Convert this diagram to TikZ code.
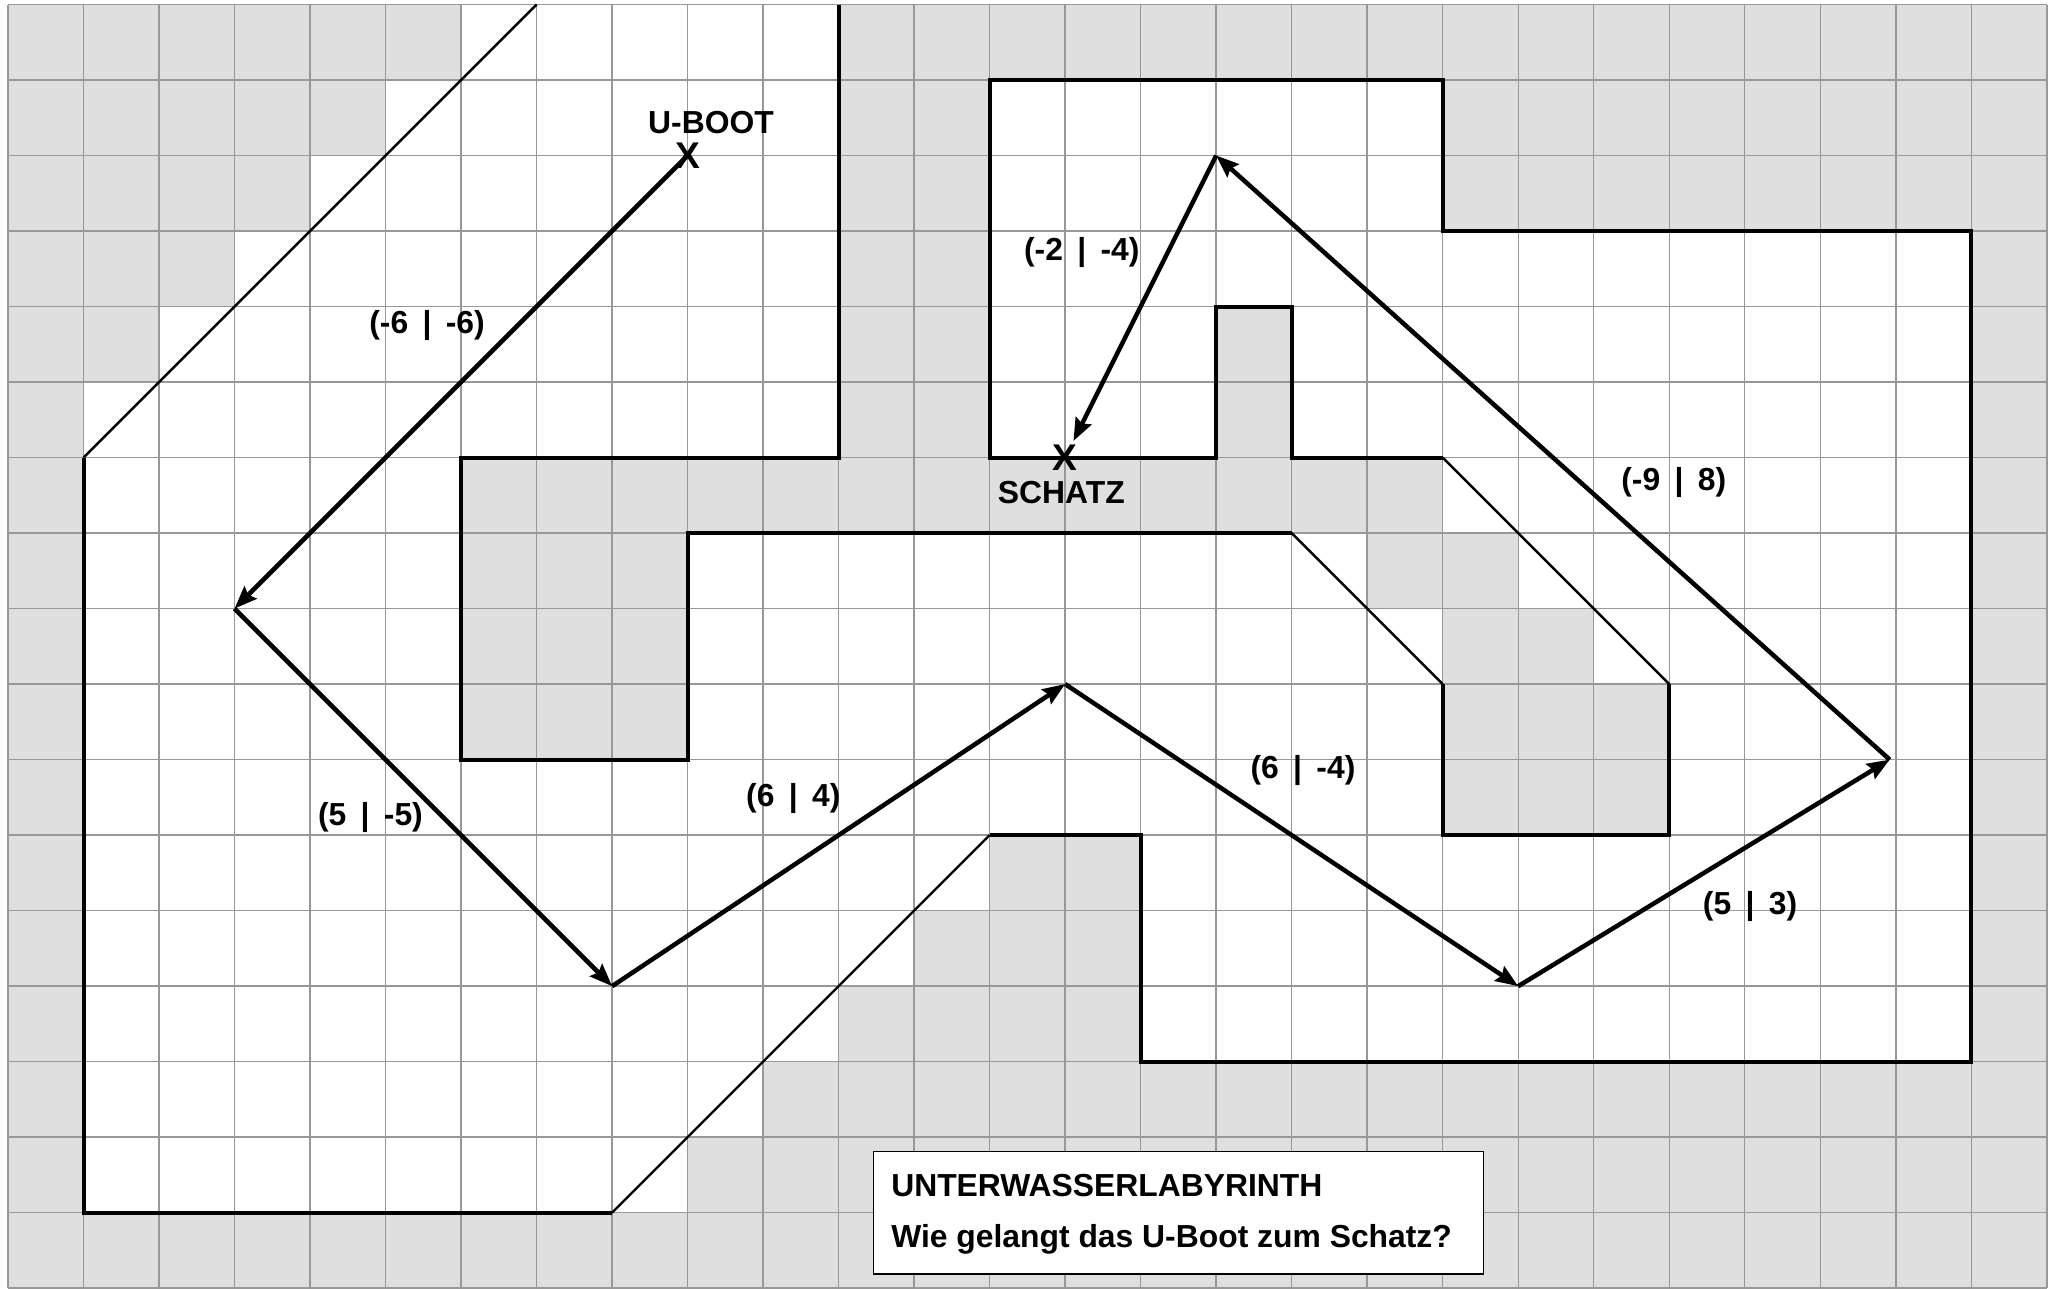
\documentclass[tikz,border=0pt]{standalone}
\usepackage{fontspec}
\setmainfont{Liberation Sans}
\usetikzlibrary{arrows.meta}
\definecolor{gridc}{RGB}{152,152,152}
\definecolor{wallc}{RGB}{223,223,223}
\newcommand{\vlab}[2]{(#1\hspace{0.45em}|\hspace{0.45em}#2)}
\begin{document}
\begin{tikzpicture}[x=1cm,y=1cm,
  gridline/.style={draw=gridc, line width=0.55pt},
  wall/.style={line width=1.5pt, line join=miter},
  thinwall/.style={line width=0.9pt},
  vec/.style={line width=1.7pt, -{Stealth[length=8.5pt,width=6.5pt,inset=1.2pt]}},
  lbl/.style={font=\fontsize{12}{14}\selectfont\bfseries, inner sep=0pt},
  xmark/.style={font=\fontsize{14}{16}\selectfont\bfseries, inner sep=0pt},
  titlebox/.style={draw=black, line width=0.6pt, fill=white, inner sep=0pt}
]
\useasboundingbox (-0.106,0) rectangle (27.175,17.06);
\fill[white] (-0.106,0) rectangle (27.175,17.06);
% walls (gray) and water (white)
\fill[wallc] (0,0) rectangle (27,17);
\fill[white] (1,11) -- (1,1) -- (8,1) -- (13,6) -- (15,6) -- (15,3) -- (26,3) -- (26,14)
  -- (19,14) -- (19,16) -- (13,16) -- (13,11) -- (16,11) -- (16,13) -- (17,13) -- (17,11)
  -- (19,11) -- (22,8) -- (22,6) -- (19,6) -- (19,8) -- (17,10) -- (9,10) -- (9,7)
  -- (6,7) -- (6,11) -- (11,11) -- (11,17) -- (7,17) -- cycle;
\foreach \a/\b in {6/16,5/15,4/14,3/13,2/12,1/11,8/1,9/2,10/3,11/4,12/5,19/10,20/9,21/8,17/9,18/8}
  \fill[white] (\a,\b) rectangle ++(1,1);
% grid
\draw[gridline] (0,0) grid (27,17);
% boundaries
\draw[wall] (11,17) -- (11,11) -- (6,11) -- (6,7) -- (9,7) -- (9,10) -- (17,10);
\draw[wall] (19,8) -- (19,6) -- (22,6) -- (22,8);
\draw[wall] (13,6) -- (15,6) -- (15,3) -- (26,3) -- (26,14) -- (19,14) -- (19,16) -- (13,16)
  -- (13,11) -- (16,11) -- (16,13) -- (17,13) -- (17,11) -- (19,11);
\draw[wall] (8,1) -- (1,1) -- (1,11);
\draw[thinwall] (1,11) -- (7,17);
\draw[thinwall] (8,1) -- (13,6);
\draw[thinwall] (19,11) -- (22,8);
\draw[thinwall] (17,10) -- (19,8);
% route points
\coordinate (uboot) at (9,15);
\coordinate (p1) at (3,9);
\coordinate (p2) at (8,4);
\coordinate (p3) at (14,8);
\coordinate (p4) at (20,4);
\coordinate (p5) at (24.92,7);
\coordinate (p6) at (16,15);
\coordinate (schatz) at (14,11);
% marks
\node[xmark] (xu) at (uboot) {X};
\node[xmark] (xs) at (schatz) {X};
\node[lbl] (ub) at (9.31,15.44) {U-BOOT};
\node[lbl] (sc) at (13.95,10.54) {SCHATZ};
% vectors
\draw[vec] (uboot) -- (p1);
\draw[vec] (p1) -- (p2);
\draw[vec] (p2) -- (p3);
\draw[vec] (p3) -- (p4);
\draw[vec] (p4) -- (p5);
\draw[vec] (p5) -- (p6);
\draw[vec, shorten >=7pt] (p6) -- (schatz);
% labels
\node[lbl] (l1) at (5.55,12.75) {\vlab{-6}{-6}};
\node[lbl] (l2) at (4.80,6.24) {\vlab{5}{-5}};
\node[lbl] (l3) at (10.40,6.48) {\vlab{6}{4}};
\node[lbl] (l4) at (17.15,6.85) {\vlab{6}{-4}};
\node[lbl] (l5) at (23.07,5.05) {\vlab{5}{3}};
\node[lbl] (l6) at (22.06,10.67) {\vlab{-9}{8}};
\node[lbl] (l7) at (14.22,13.72) {\vlab{-2}{-4}};
% title box
\node[titlebox, minimum width=8.08cm, minimum height=1.62cm] (box) at (15.5,1.0) {};
\node[lbl, anchor=base west] (t1) at (11.69,1.22) {UNTERWASSERLABYRINTH};
\node[lbl, anchor=base west] (t2) at (11.69,0.54) {Wie gelangt das U-Boot zum Schatz?};
\end{tikzpicture}
\end{document}
